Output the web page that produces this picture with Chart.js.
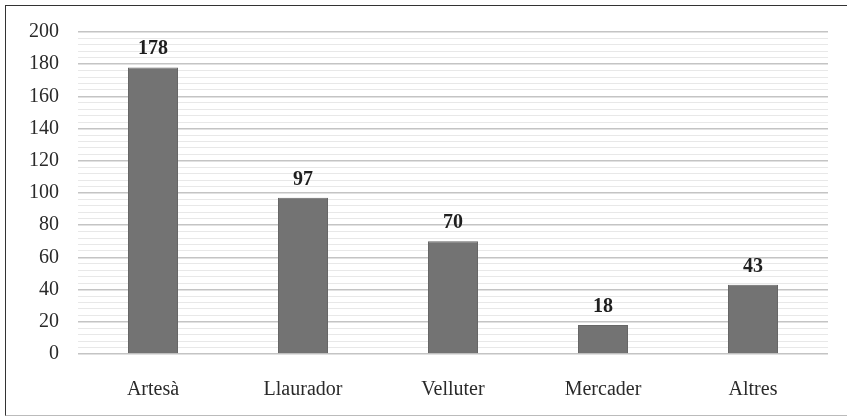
<!DOCTYPE html>
<html>
<head>
<meta charset="utf-8">
<script src="https://cdn.jsdelivr.net/npm/chart.js@4"></script>
<style>
  html, body { margin: 0; padding: 0; background: #fff; }
  #wrap { position: relative; width: 847px; height: 416px; }
  #frame { position: absolute; left: 5px; top: 5px; width: 850px; height: 409px;
           border-left: 1.5px solid #333; border-top: 1.5px solid #333; border-bottom: 1px solid #bbb; }
  canvas { position: absolute; left: 0; top: 0; }
</style>
</head>
<body>
<div id="wrap">
  <div id="frame"></div>
  <canvas id="chart" width="847" height="416"></canvas>
</div>
<script>
// categories and values
const categories = ["Artesà", "Llaurador", "Velluter", "Mercader", "Altres"];
const counts = [178, 97, 70, 18, 43];
const yTicks = [0, 20, 40, 60, 80, 100, 120, 140, 160, 180, 200];

const FONT = "'Liberation Serif', serif";

// draw the value above each bar
const valueLabels = {
    id: "valueLabels",
    afterDatasetsDraw(chart) {
        const ctx = chart.ctx;
        const meta = chart.getDatasetMeta(0);
        ctx.save();
        ctx.font = "bold 20px " + FONT;
        ctx.fillStyle = "#1f1f1f";
        ctx.textAlign = "center";
        ctx.textBaseline = "alphabetic";
        meta.data.forEach((bar, i) => {
            ctx.fillText(String(counts[i]), bar.x, bar.y - 13);
        });
        ctx.restore();
    }
};

new Chart(document.getElementById("chart"), {
    type: "bar",
    data: {
        labels: categories,
        datasets: [{
            data: counts,
            backgroundColor: "#737373",
            borderColor: "#666666",
            borderWidth: 1,
            categoryPercentage: 1,
            barPercentage: 1 / 3
        }]
    },
    options: {
        responsive: false,
        animation: false,
        layout: { padding: { top: 32, right: 19, left: 0, bottom: 0 } },
        plugins: { legend: { display: false }, tooltip: { enabled: false } },
        scales: {
            x: {
                grid: { display: false },
                border: { display: false },
                ticks: { color: "#2a2a2a", font: { family: FONT, size: 20 }, padding: 16 },
                afterFit(scale) { scale.height = 62; }
            },
            y: {
                min: 0,
                max: 200,
                ticks: {
                    stepSize: 4,
                    maxTicksLimit: 60,
                    autoSkip: false,
                    color: "#2a2a2a",
                    font: { family: FONT, size: 20 },
                    padding: 19,
                    callback: v => yTicks.includes(v) ? String(v) : ""
                },
                grid: {
                    drawTicks: false,
                    color: c => yTicks.includes(c.tick.value) ? "#c4c4c4" : "#e8e8e8",
                    lineWidth: c => yTicks.includes(c.tick.value) ? 1.5 : 1
                },
                border: { display: false },
                afterFit(scale) { scale.width = 78; }
            }
        }
    },
    plugins: [valueLabels]
});
</script>
</body>
</html>
